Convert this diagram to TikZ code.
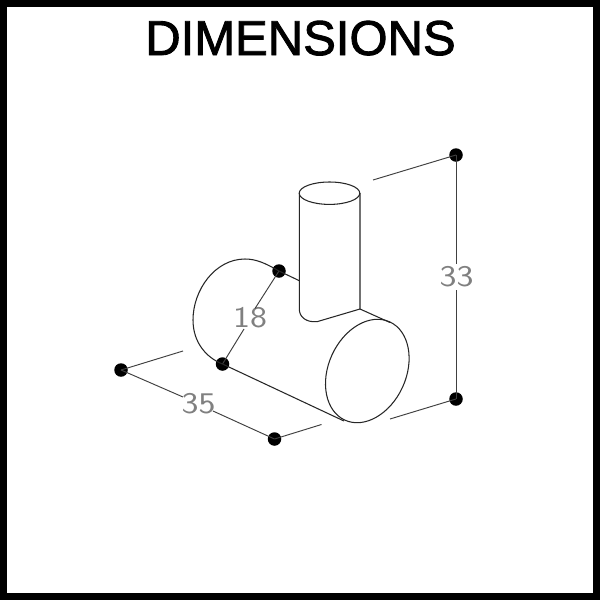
\documentclass[tikz,border=0pt]{standalone}
\usepackage{fontspec}
\setmainfont{Liberation Sans}[FakeBold=1.8]
\newfontfamily\cadfont{Latin Modern Sans}[FakeStretch=1.2]
\tikzset{
  frameline/.style={draw=black,line width=7pt},
  part/.style={draw=black!85,line width=1.05pt,line join=round},
  dimline/.style={draw=black!75,line width=0.95pt},
  dotmark/.style={circle,fill=black,draw=none,inner sep=0pt,minimum size=13.5pt},
  dimtext/.style={text=black!50,inner sep=0pt,font=\cadfont\fontsize{30}{30}\selectfont},
  titletext/.style={text=black,inner sep=0pt,font=\fontsize{49}{49}\selectfont}
}
\begin{document}
\begin{tikzpicture}[x=1pt,y=1pt]
\useasboundingbox (0,0) rectangle (600,-600);
\fill[white] (0,0) rectangle (600,-600);
\draw[frameline] (3.5,-3.5) rectangle (596.5,-596.5);
\node[titletext,anchor=base] (title) at (300.5,-55) {DIMENSIONS};
% dots
\node[dotmark] (a) at (279,-271) {};
\node[dotmark] (b) at (222.5,-364) {};
\node[dotmark] (c) at (121,-370) {};
\node[dotmark] (d) at (274.5,-439) {};
\node[dotmark] (e) at (456,-155) {};
\node[dotmark] (f) at (456,-399) {};
% labels
\node[dimtext] (t18) at (250,-318) {18};
\node[dimtext] (t35) at (198.5,-404) {35};
\node[dimtext] (t33) at (456.5,-277) {33};
\coordinate (x1) at (183,-351);
\coordinate (x2) at (321.5,-424.5);
\coordinate (x3) at (373,-180);
\coordinate (x4) at (390,-419);
\coordinate (p1) at (255,-308.5);
\coordinate (p2) at (244,-329);
\coordinate (q1) at (183,-397);
\coordinate (q2) at (213,-411);
\coordinate (r1) at (456,-264);
\coordinate (r2) at (456,-290);
% dimension lines
\draw[dimline] (c.center) -- (x1);
\draw[dimline] (d.center) -- (x2);
\draw[dimline] (e.center) -- (x3);
\draw[dimline] (f.center) -- (x4);
\draw[dimline] (a.center) -- (p1);
\draw[dimline] (b.center) -- (p2);
\draw[dimline] (c.center) -- (q1);
\draw[dimline] (d.center) -- (q2);
\draw[dimline] (e.center) -- (r1);
\draw[dimline] (f.center) -- (r2);
% part
\draw[part] (329.5,-193.2) ellipse [x radius=30.3,y radius=11.2];
\draw[part] (299.3,-193.2) -- (299.3,-309)
  .. controls (299.3,-317) and (306,-322.5) .. (317,-321.7) -- (360,-309) -- (360,-193.2);
\draw[part] (360,-309) -- (390,-322.5);
\draw[part] (367.3,-371) [rotate around={-24.5:(367.3,-371)}] ellipse [x radius=38.8,y radius=54];
\draw[part] (a.center) -- (299.3,-280.7);
\draw[part] (b.center) -- (344,-421);
\draw[part] (a.center) .. controls (265,-263) and (256,-259) .. (245,-259)
  .. controls (215,-259) and (193,-290) .. (193,-320)
  .. controls (193,-343) and (207,-358) .. (b.center);
\end{tikzpicture}
\end{document}
